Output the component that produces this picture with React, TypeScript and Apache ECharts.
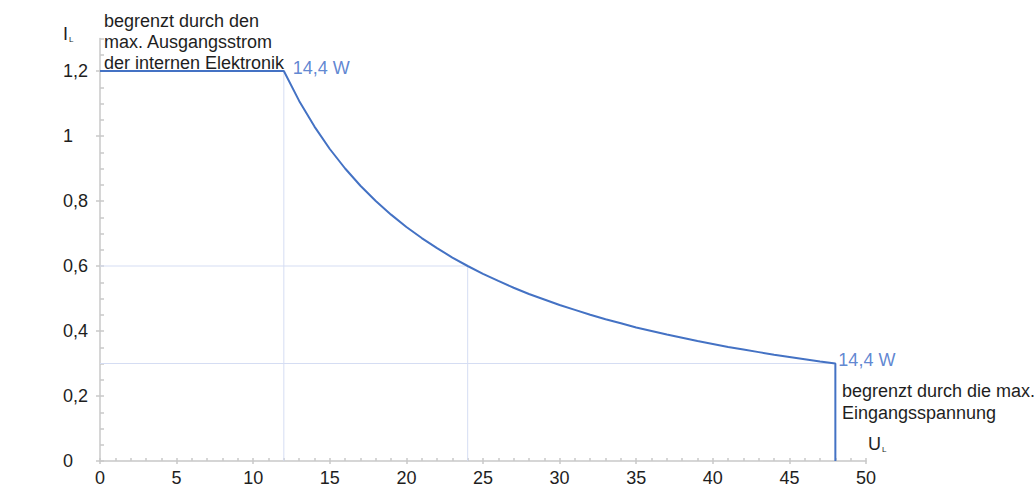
import React, { useEffect, useRef } from "react";
import * as echarts from "echarts";

// Curve: output current I_L (A) vs output voltage U_L (V)
const uVoltage = [0, 12, 13, 14, 15, 16, 17, 18, 19, 20, 21, 22, 23, 24, 25, 26, 27, 28, 29, 30, 31, 32, 33, 34, 35, 36, 37, 38, 39, 40, 41, 42, 43, 44, 45, 46, 47, 48, 48];
const iCurrent = [1.2, 1.2, 1.108, 1.029, 0.96, 0.9, 0.847, 0.8, 0.758, 0.72, 0.686, 0.655, 0.626, 0.6, 0.576, 0.554, 0.533, 0.514, 0.497, 0.48, 0.465, 0.45, 0.436, 0.424, 0.411, 0.4, 0.389, 0.379, 0.369, 0.36, 0.351, 0.343, 0.335, 0.327, 0.32, 0.313, 0.306, 0.3, 0];

// Marked power points (14,4 W)
const powerPoints: [number, number][] = [[12, 1.2], [48, 0.3]];
const powerLabel = "14,4 W";
// Helper guide lines (start, end) in data units
const guideLines: [number, number][][] = [
  [[12, 1.2], [12, 0]],
  [[24, 0.6], [24, 0]],
  [[0, 0.6], [24, 0.6]],
  [[0, 0.3], [48, 0.3]],
];

const xTickValues = [0, 5, 10, 15, 20, 25, 30, 35, 40, 45, 50];
const yTickValues = [0, 0.2, 0.4, 0.6, 0.8, 1, 1.2];
const xRange = [0, 50];
const yRange = [0, 1.3];

const noteTop = ["begrenzt durch den", "max. Ausgangsstrom", "der internen Elektronik"];
const noteRight = ["begrenzt durch die max.", "Eingangsspannung"];

const FONT = 'Arial, "Liberation Sans", Helvetica, sans-serif';
const AXIS = "#c8c8c8";
const BLUE = "#4472c4";
const LABEL_BLUE = "#3768c6";
const GUIDE = "#d5ddf3";
const TXT = "#1e1e1e";

export default function App() {
  const ref = useRef<HTMLDivElement>(null);
  useEffect(() => {
    if (!ref.current) return;
    const chart = echarts.init(ref.current, null, { renderer: "svg" });
    const fmt = (v: number) => String(Math.round(v * 100) / 100).replace(".", ",");
    const gridW = 1035 - 100 - 169;
    const gridH = 498 - 38.5 - 37;
    chart.setOption({
      animation: false,
      backgroundColor: "#ffffff",
      textStyle: { fontFamily: FONT },
      grid: { left: 100, right: 169, top: 38.5, bottom: 37, outerBoundsMode: "none", containLabel: false },
      xAxis: [
        {
          type: "value",
          min: xRange[0],
          max: xRange[1],
          interval: 5,
          position: "bottom",
          axisLine: { onZero: false, lineStyle: { color: AXIS, width: 1.5 } },
          axisTick: { show: true, length: 3, lineStyle: { color: AXIS, width: 1.5 } },
          axisLabel: { color: TXT, fontSize: 18, margin: 8, fontFamily: FONT, customValues: xTickValues, formatter: fmt },
          splitLine: { show: false },
        },
        {
          type: "value",
          min: xRange[0],
          max: xRange[1],
          interval: 1,
          position: "top",
          offset: -gridH,
          axisLine: { show: false, onZero: false },
          axisTick: { show: true, length: 3, inside: false, lineStyle: { color: AXIS, width: 1.5 } },
          axisLabel: { show: false },
          splitLine: { show: false },
        },
      ],
      yAxis: [
        {
          type: "value",
          min: yRange[0],
          max: yRange[1],
          interval: 0.2,
          position: "left",
          axisLine: { show: true, onZero: false, lineStyle: { color: AXIS, width: 1.5 } },
          axisTick: { show: true, length: 4, customValues: yTickValues, lineStyle: { color: AXIS, width: 1.5 } },
          axisLabel: { color: TXT, fontSize: 18, margin: 37, align: "left", fontFamily: FONT, customValues: yTickValues, formatter: fmt },
          splitLine: { show: false },
        },
        {
          type: "value",
          min: yRange[0],
          max: yRange[1],
          interval: 0.05,
          position: "right",
          offset: -gridW,
          axisLine: { show: false, onZero: false },
          axisTick: { show: true, length: 4, inside: false, lineStyle: { color: AXIS, width: 1.5 } },
          axisLabel: { show: false },
          splitLine: { show: false },
        },
      ],
      series: [
        ...guideLines.map((seg) => ({
          type: "line",
          xAxisIndex: 0,
          yAxisIndex: 0,
          data: seg,
          symbol: "none",
          silent: true,
          z: 1,
          lineStyle: { color: GUIDE, width: 1 },
        })),
        {
          type: "line",
          xAxisIndex: 0,
          yAxisIndex: 0,
          data: uVoltage.map((u, i) => [u, iCurrent[i]]),
          symbol: "none",
          z: 3,
          lineStyle: { color: BLUE, width: 2 },
        },
        {
          type: "scatter",
          xAxisIndex: 0,
          yAxisIndex: 0,
          symbolSize: 0,
          z: 4,
          data: powerPoints.map((p, i) => ({
            value: p,
            label: {
              show: true,
              position: "right",
              distance: i === 0 ? 9 : 3,
              offset: [0, -3.5],
              formatter: powerLabel,
              color: LABEL_BLUE,
              fontSize: 18,
              fontFamily: FONT,
            },
          })),
        },
      ],
      graphic: [
        {
          type: "text",
          x: 104,
          y: 10.5,
          style: { text: noteTop.join("\n"), font: `18px ${FONT}`, fill: TXT, lineHeight: 20.8, textVerticalAlign: "top" },
        },
        {
          type: "text",
          x: 842,
          y: 380.5,
          style: { text: noteRight.join("\n"), font: `18px ${FONT}`, fill: TXT, lineHeight: 21.5, textVerticalAlign: "top" },
        },
        { type: "text", x: 63, y: 34, style: { text: "I", font: `18px ${FONT}`, fill: TXT, textVerticalAlign: "middle" } },
        { type: "text", x: 69, y: 39.5, style: { text: "L", font: `8px ${FONT}`, fill: TXT, textVerticalAlign: "middle" } },
        { type: "text", x: 868, y: 443.5, style: { text: "U", font: `18px ${FONT}`, fill: TXT, textVerticalAlign: "middle" } },
        { type: "text", x: 882, y: 449, style: { text: "L", font: `8px ${FONT}`, fill: TXT, textVerticalAlign: "middle" } },
      ],
    });
    return () => chart.dispose();
  }, []);
  return <div ref={ref} style={{ position: "absolute", left: 0, top: 0, width: 1035, height: 498 }} />;
}
